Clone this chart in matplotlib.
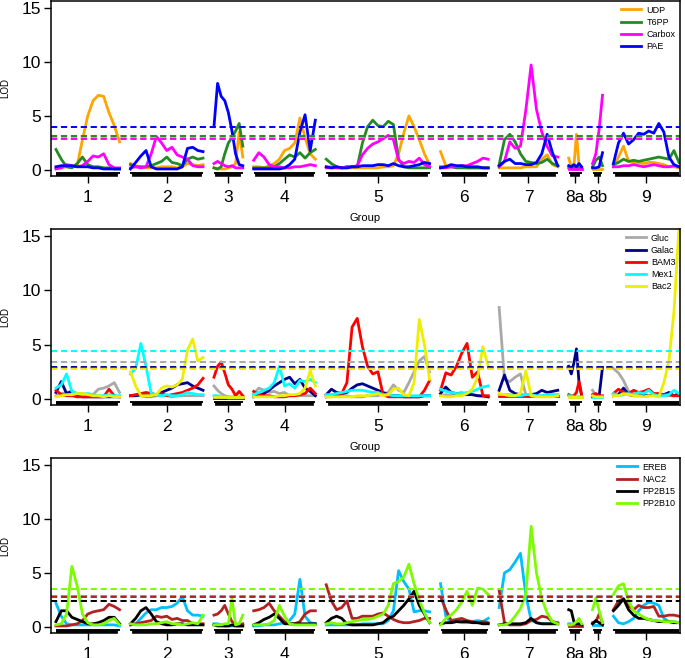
import matplotlib
matplotlib.use('Agg')
import matplotlib.pyplot as plt
import numpy as np

plt.rcParams['font.family'] = ['Liberation Sans', 'DejaVu Sans']

# chromosome layout (cM) and marker counts
chrom_names = ['1', '2', '3', '4', '5', '6', '7', '8a', '8b', '9']
chrom_len = [64, 73, 29, 62, 104, 48, 59, 13, 10, 66]
n_pts = [13, 15, 9, 13, 21, 10, 12, 6, 4, 14]
gap = 11

# ---- panel 1 ----
udp = [
    [0.2, 0.2, 0.3, 0.3, 0.4, 2.8, 5.0, 6.4, 6.9, 6.8, 5.3, 4.1, 2.6],
    [0.6, 0.4, 0.3, 0.2, 0.2, 0.2, 0.3, 0.3, 0.3, 0.2, 0.3, 0.6, 0.5, 0.4, 0.5],
    [0.2, 0.1, 0.1, 0.1, 0.2, 0.3, 0.6, 3.5, 1.2],
    [0.3, 0.3, 0.2, 0.4, 0.6, 1.0, 1.8, 2.0, 2.5, 4.8, 3.0, 1.5, 1.0],
    [0.3, 0.3, 0.2, 0.2, 0.2, 0.2, 0.2, 0.2, 0.2, 0.2, 0.2, 0.3, 0.3, 0.4, 1.5, 3.4, 5.0, 4.0, 2.8, 1.5, 0.5],
    [1.7, 0.4, 0.3, 0.3, 0.3, 0.2, 0.2, 0.2, 0.2, 0.2],
    [0.2, 0.2, 0.2, 0.2, 0.2, 0.3, 0.3, 0.3, 1.0, 1.4, 0.5, 0.3],
    [1.1, 0.3, 0.3, 3.3, 0.4, 0.2],
    [0.1, 0.1, 0.1, 0.1],
    [0.3, 1.2, 2.2, 0.8, 0.7, 0.7, 0.6, 0.7, 0.7, 0.6, 0.5, 0.3, 0.3, 0.2],
]
t6pp = [
    [1.9, 1.0, 0.3, 0.2, 0.6, 1.2, 0.5, 0.3, 0.3, 0.2, 0.2, 0.1, 0.1],
    [0.5, 0.3, 0.3, 0.3, 0.4, 0.6, 0.8, 1.2, 0.7, 0.6, 0.4, 1.0, 1.2, 1.0, 1.1],
    [0.2, 0.1, 0.3, 1.5, 2.5, 3.0, 3.6, 4.3, 2.2],
    [0.2, 0.2, 0.2, 0.2, 0.3, 0.6, 1.0, 1.4, 1.2, 1.6, 1.1, 1.6, 1.9],
    [1.0, 0.6, 0.3, 0.2, 0.3, 0.3, 0.3, 2.5, 4.0, 4.6, 4.1, 4.0, 4.5, 4.2, 1.0, 0.3, 0.2, 0.2, 0.2, 0.2, 0.2],
    [0.3, 0.3, 0.3, 0.2, 0.2, 0.2, 0.2, 0.2, 0.2, 0.2],
    [0.5, 2.8, 3.3, 2.6, 1.5, 0.8, 0.7, 0.6, 0.7, 1.0, 0.6, 0.4],
    [0.2, 0.2, 0.2, 0.3, 0.2, 0.2],
    [0.3, 0.9, 1.2, 0.4],
    [0.5, 0.7, 1.0, 0.8, 0.9, 0.8, 0.9, 1.0, 1.1, 1.2, 1.1, 1.0, 1.8, 0.7],
]
carbox = [
    [0.1, 0.2, 0.5, 0.4, 0.3, 0.4, 0.8, 1.3, 1.2, 1.5, 0.5, 0.2, 0.2],
    [0.2, 0.3, 0.2, 0.3, 1.5, 3.1, 2.5, 1.8, 2.1, 1.4, 1.2, 1.0, 0.4, 0.3, 0.3],
    [0.6, 0.8, 0.6, 0.4, 0.3, 0.4, 0.2, 0.2, 0.2],
    [0.9, 1.6, 1.2, 0.5, 0.3, 0.3, 0.2, 0.2, 0.3, 0.3, 0.4, 0.5, 0.4],
    [0.2, 0.2, 0.2, 0.2, 0.3, 0.3, 0.4, 1.4, 2.0, 2.4, 2.6, 2.9, 3.2, 2.8, 0.9, 0.6, 0.8, 0.7, 1.1, 0.5, 0.3],
    [0.2, 0.2, 0.3, 0.3, 0.4, 0.4, 0.6, 0.8, 1.1, 1.0],
    [0.3, 0.8, 2.6, 2.0, 2.2, 5.5, 9.7, 5.6, 3.5, 2.2, 1.3, 1.2],
    [0.1, 0.1, 0.1, 0.1, 0.1, 0.1],
    [0.6, 1.5, 3.8, 6.9],
    [0.3, 0.3, 0.4, 0.4, 0.5, 0.4, 0.3, 0.4, 0.5, 0.4, 0.3, 0.3, 0.4, 0.3],
]
pae = [
    [0.3, 0.4, 0.4, 0.4, 0.3, 0.3, 0.3, 0.2, 0.2, 0.1, 0.1, 0.1, 0.1],
    [0.1, 0.7, 1.3, 1.8, 0.3, 0.1, 0.1, 0.1, 0.1, 0.1, 0.3, 2.0, 2.1, 1.8, 1.7],
    [4.0, 8.0, 6.8, 6.4, 5.3, 3.6, 1.5, 0.5, 0.4],
    [0.1, 0.1, 0.1, 0.1, 0.1, 0.1, 0.2, 0.5, 1.0, 3.5, 5.1, 1.8, 4.6],
    [0.3, 0.2, 0.3, 0.2, 0.2, 0.3, 0.3, 0.4, 0.4, 0.4, 0.5, 0.5, 0.4, 0.6, 0.4, 0.3, 0.3, 0.4, 0.5, 0.7, 0.6],
    [0.2, 0.3, 0.5, 0.4, 0.4, 0.3, 0.3, 0.3, 0.2, 0.2],
    [0.4, 0.8, 1.0, 0.6, 0.6, 0.5, 0.5, 0.7, 1.5, 3.3, 1.6, 0.4],
    [0.4, 0.3, 0.5, 0.3, 0.6, 0.3],
    [0.2, 0.2, 0.3, 1.6],
    [0.6, 2.5, 3.4, 2.4, 2.8, 3.4, 3.3, 3.6, 3.4, 4.3, 3.5, 1.2, 0.5, 0.3],
]

# ---- panel 2 ----
gluc = [
    [0.3, 0.5, 0.6, 0.7, 0.5, 0.5, 0.4, 0.4, 0.9, 1.0, 1.2, 1.5, 0.6],
    [0.3, 0.3, 0.3, 0.2, 0.2, 0.3, 0.3, 0.3, 0.2, 0.3, 0.3, 0.3, 0.3, 0.3, 0.3],
    [1.2, 0.8, 0.5, 0.3, 0.2, 0.2, 0.2, 0.2, 0.2],
    [0.5, 1.0, 0.8, 0.6, 0.7, 0.5, 0.6, 0.3, 0.3, 0.3, 0.3, 0.3, 0.3],
    [0.2, 0.2, 0.3, 0.3, 0.3, 0.2, 0.2, 0.2, 0.3, 0.3, 0.3, 0.5, 0.6, 1.3, 0.8, 0.6, 1.5, 2.5, 3.5, 3.9, 2.5],
    [0.3, 0.4, 0.3, 0.5, 0.6, 0.4, 0.4, 0.3, 0.2, 0.2],
    [8.4, 1.8, 1.6, 2.0, 2.3, 0.4, 0.3, 0.3, 0.3, 0.3, 0.3, 0.3],
    [0.2, 0.2, 0.2, 0.2, 0.2, 0.2],
    [0.8, 0.3, 0.2, 0.2],
    [2.8, 2.4, 1.7, 0.7, 0.5, 0.4, 0.3, 0.3, 0.3, 0.3, 0.3, 0.3, 0.3, 0.3],
]
galac = [
    [0.6, 1.6, 0.5, 0.7, 0.3, 0.2, 0.2, 0.2, 0.2, 0.2, 0.2, 0.2, 0.2],
    [0.3, 0.3, 0.4, 0.3, 0.3, 0.4, 0.6, 0.8, 1.0, 1.3, 1.4, 1.5, 1.2, 1.0, 0.8],
    [0.1, 0.1, 0.1, 0.1, 0.1, 0.1, 0.1, 0.1, 0.1],
    [0.2, 0.3, 0.5, 0.8, 1.2, 1.5, 1.8, 2.0, 1.4, 1.8, 1.0, 0.7, 0.3],
    [0.4, 0.9, 0.6, 0.5, 0.6, 1.0, 1.3, 1.4, 1.2, 1.0, 0.8, 0.6, 0.4, 0.3, 0.3, 0.2, 0.2, 0.2, 0.2, 0.3, 0.3],
    [0.5, 1.1, 0.6, 0.5, 0.4, 0.4, 0.4, 0.3, 0.3, 0.2],
    [0.8, 2.2, 0.8, 0.5, 0.4, 0.3, 0.4, 0.5, 0.8, 0.6, 0.7, 0.8],
    [3.0, 2.3, 3.3, 4.6, 1.5, 0.3],
    [0.2, 0.3, 0.3, 2.9],
    [0.3, 0.4, 1.0, 0.4, 0.3, 0.3, 0.3, 0.3, 0.4, 0.3, 0.4, 0.6, 0.3, 0.5],
]
bam3 = [
    [0.8, 0.4, 0.3, 0.3, 0.2, 0.2, 0.2, 0.2, 0.2, 0.2, 0.9, 0.3, 0.2],
    [0.3, 0.4, 0.5, 0.6, 0.5, 0.4, 0.5, 0.3, 0.4, 0.5, 0.6, 0.8, 1.0, 1.3, 1.9],
    [2.0, 3.0, 3.4, 2.4, 1.3, 0.9, 0.3, 0.7, 0.3],
    [0.7, 0.4, 0.3, 0.3, 0.2, 0.2, 0.2, 0.3, 0.3, 0.4, 0.5, 1.0, 0.5],
    [0.2, 0.3, 0.3, 0.5, 1.5, 6.6, 7.4, 4.8, 3.0, 2.3, 2.5, 0.4, 0.2, 0.2, 0.2, 0.2, 0.2, 0.2, 0.2, 0.8, 1.7],
    [0.8, 2.4, 2.2, 3.0, 4.2, 5.1, 2.0, 2.5, 0.3, 0.3],
    [0.3, 0.3, 0.3, 0.3, 0.3, 0.3, 0.3, 0.3, 0.3, 0.3, 0.3, 0.3],
    [0.4, 0.3, 0.3, 0.6, 1.6, 0.4],
    [0.4, 0.5, 0.3, 0.3],
    [0.5, 0.9, 0.6, 0.5, 0.8, 0.6, 0.7, 0.9, 0.5, 0.5, 0.4, 0.4, 0.3, 0.3],
]
mex1 = [
    [1.0, 1.3, 2.3, 0.7, 0.5, 0.4, 0.5, 0.4, 0.3, 0.3, 0.4, 0.3, 0.3],
    [2.3, 2.8, 5.1, 3.0, 0.5, 0.4, 0.3, 0.4, 0.3, 0.3, 0.4, 0.6, 0.5, 0.4, 0.4],
    [0.3, 0.3, 0.2, 0.2, 0.1, 0.1, 0.1, 0.1, 0.1],
    [0.4, 0.6, 0.8, 1.0, 1.5, 3.0, 1.2, 1.4, 1.0, 1.7, 1.6, 1.8, 1.5],
    [0.4, 0.4, 0.5, 0.6, 0.7, 0.8, 0.8, 0.8, 0.7, 0.6, 0.6, 0.4, 0.4, 0.3, 0.3, 0.3, 0.3, 0.3, 0.3, 0.3, 0.3],
    [0.9, 0.7, 0.6, 0.5, 0.5, 0.6, 0.7, 0.9, 1.1, 1.2],
    [0.4, 0.4, 0.4, 0.3, 0.3, 0.4, 0.4, 0.3, 0.3, 0.4, 0.4, 0.4],
    [0.3, 0.3, 0.2, 0.2, 0.2, 0.2],
    [0.2, 0.2, 0.2, 0.2],
    [0.5, 0.3, 0.4, 0.5, 0.4, 0.6, 0.5, 0.8, 0.4, 0.3, 0.3, 0.4, 0.8, 0.5],
]
bac2 = [
    [0.2, 0.3, 0.4, 0.4, 0.5, 0.5, 0.4, 0.3, 0.3, 0.2, 0.3, 0.2, 0.2],
    [2.5, 1.2, 0.3, 0.3, 0.3, 0.4, 1.0, 1.2, 1.1, 1.3, 1.8, 4.5, 5.5, 3.5, 3.8],
    [0.2, 0.2, 0.2, 0.2, 0.2, 0.2, 0.2, 0.2, 0.2],
    [0.2, 0.2, 0.2, 0.2, 0.2, 0.3, 0.3, 0.4, 0.4, 0.5, 1.0, 2.6, 1.2],
    [0.2, 0.2, 0.2, 0.2, 0.2, 0.2, 0.3, 0.3, 0.3, 0.4, 0.5, 0.3, 0.4, 0.9, 1.0, 0.4, 0.3, 1.5, 7.3, 5.0, 1.8],
    [0.3, 0.2, 0.2, 0.3, 0.3, 0.5, 0.9, 2.0, 4.8, 3.0],
    [0.5, 0.4, 0.3, 0.3, 0.5, 2.6, 0.3, 0.2, 0.2, 0.2, 0.2, 0.3],
    [0.2, 0.2, 0.2, 0.2, 0.2, 0.2],
    [0.3, 0.2, 0.2, 0.2],
    [0.3, 0.3, 0.5, 0.4, 0.3, 0.3, 0.2, 0.3, 0.3, 0.2, 1.5, 3.5, 8.0, 15.8],
]

# ---- panel 3 ----
ereb = [
    [2.2, 1.0, 0.3, 0.2, 0.2, 0.2, 0.2, 0.2, 0.2, 0.2, 0.2, 0.2, 0.1],
    [0.2, 0.3, 0.8, 1.3, 1.6, 1.6, 1.8, 1.8, 1.9, 2.2, 2.8, 1.5, 1.1, 1.1, 1.0],
    [0.3, 0.3, 0.2, 0.1, 0.1, 0.1, 0.1, 0.1, 0.1],
    [0.1, 0.1, 0.2, 0.2, 0.2, 0.3, 0.4, 0.6, 1.2, 4.4, 1.0, 0.4, 0.3],
    [0.2, 0.2, 0.2, 0.2, 0.2, 0.2, 0.2, 0.3, 0.3, 0.3, 0.3, 0.3, 0.6, 1.5, 5.2, 4.2, 3.5, 1.4, 1.5, 1.5, 1.4],
    [4.0, 1.0, 0.4, 0.5, 0.4, 0.4, 0.5, 0.6, 0.5, 0.8],
    [1.8, 5.0, 5.3, 6.0, 6.8, 3.0, 0.6, 0.4, 0.3, 0.3, 0.3, 0.3],
    [0.3, 0.3, 0.2, 0.2, 0.2, 0.2],
    [0.2, 0.2, 0.2, 0.2],
    [1.0, 0.4, 0.3, 0.5, 0.8, 1.5, 2.0, 2.3, 2.2, 2.0, 0.8, 0.5, 0.5, 0.4],
]
nac2 = [
    [0.1, 0.1, 0.1, 0.2, 0.3, 0.6, 1.2, 1.4, 1.5, 1.6, 2.1, 1.9, 1.6],
    [0.2, 0.3, 0.4, 0.5, 0.6, 1.0, 0.9, 1.0, 0.7, 0.8, 0.6, 0.6, 0.3, 0.3, 0.3],
    [1.1, 1.2, 1.5, 2.0, 1.2, 0.5, 0.3, 0.2, 0.3],
    [1.5, 1.6, 1.8, 2.2, 1.5, 1.0, 0.5, 0.3, 0.3, 0.5, 1.2, 1.5, 1.5],
    [3.9, 2.4, 1.6, 1.8, 2.4, 0.8, 0.8, 1.0, 1.0, 1.0, 1.2, 1.3, 1.0, 0.7, 0.5, 0.4, 0.4, 0.5, 0.6, 0.8, 0.8],
    [2.8, 1.6, 0.6, 0.7, 0.8, 0.6, 0.5, 0.4, 0.5, 0.4],
    [3.4, 0.4, 0.2, 0.2, 0.2, 0.3, 0.6, 0.7, 1.0, 0.9, 0.5, 0.4],
    [0.1, 0.1, 0.1, 0.1, 0.1, 0.1],
    [0.4, 0.5, 1.2, 0.4],
    [1.6, 2.4, 2.6, 2.0, 1.6, 2.0, 1.8, 1.8, 1.9, 1.0, 1.0, 1.1, 1.1, 1.0],
]
pp2b15 = [
    [0.5, 1.5, 1.5, 0.9, 0.7, 0.5, 0.3, 0.3, 0.4, 0.6, 0.9, 0.9, 0.3],
    [0.3, 0.8, 1.5, 1.8, 1.2, 0.5, 0.3, 0.2, 0.2, 0.3, 0.3, 0.2, 0.2, 0.2, 0.2],
    [0.2, 0.1, 0.1, 0.1, 0.1, 0.2, 0.1, 0.1, 0.1],
    [0.2, 0.4, 0.7, 0.9, 1.2, 0.8, 0.3, 0.3, 0.3, 0.3, 0.3, 0.3, 0.3],
    [0.4, 0.8, 1.0, 0.8, 0.3, 0.2, 0.2, 0.2, 0.2, 0.2, 0.3, 0.4, 0.8, 1.0, 1.5, 2.0, 2.6, 3.3, 2.0, 1.2, 0.4],
    [0.3, 0.4, 0.4, 0.5, 0.5, 0.5, 0.4, 0.4, 0.3, 0.3],
    [0.2, 0.3, 0.3, 0.3, 0.3, 0.4, 0.8, 0.4, 0.3, 0.3, 0.3, 0.3],
    [1.6, 1.5, 0.5, 0.3, 0.3, 0.2],
    [0.3, 0.6, 0.4, 0.2],
    [1.5, 2.0, 2.6, 1.6, 1.1, 0.8, 0.8, 0.7, 0.6, 0.5, 0.5, 0.5, 0.4, 0.4],
]
pp2b10 = [
    [0.2, 0.3, 1.2, 5.6, 3.8, 1.2, 0.4, 0.2, 0.2, 0.3, 0.6, 0.8, 0.2],
    [0.3, 0.2, 0.2, 0.2, 0.3, 0.3, 0.4, 0.5, 0.3, 0.3, 0.2, 0.3, 0.4, 0.3, 1.1],
    [0.2, 0.2, 0.2, 0.3, 0.3, 2.6, 0.2, 0.3, 1.1],
    [0.2, 0.2, 0.2, 0.3, 0.6, 2.0, 1.0, 0.3, 0.2, 0.2, 0.2, 0.2, 0.2],
    [0.3, 0.4, 0.3, 0.3, 0.4, 0.5, 0.6, 0.7, 0.7, 0.8, 1.0, 1.2, 2.0, 4.0, 4.2, 4.6, 5.8, 4.0, 2.5, 1.3, 0.4],
    [0.2, 0.8, 1.1, 1.6, 2.3, 3.3, 2.0, 3.6, 3.5, 3.0],
    [0.2, 0.2, 0.4, 1.0, 1.7, 3.0, 9.3, 5.0, 2.6, 1.3, 0.5, 0.3],
    [0.2, 0.2, 0.3, 0.5, 0.8, 0.3],
    [1.6, 2.7, 1.5, 0.4],
    [3.0, 3.8, 4.0, 2.4, 1.5, 1.2, 0.9, 0.7, 0.6, 0.6, 0.5, 0.5, 0.5, 0.4],
]

names1 = ['UDP', 'T6PP', 'Carbox', 'PAE']
colors1 = ['#FFA500', '#228B22', '#FF00FF', '#0000FF']
thresh1 = [3.0, 3.1, 2.85, 3.94]

names2 = ['Gluc', 'Galac', 'BAM3', 'Mex1', 'Bac2']
colors2 = ['#A9A9A9', '#00008B', '#FF0000', '#00FFFF', '#EEEE00']
thresh2 = [3.35, 2.95, 2.85, 4.4, 2.75]

names3 = ['EREB', 'NAC2', 'PP2B15', 'PP2B10']
colors3 = ['#00BFFF', '#B22222', '#000000', '#7CFC00']
thresh3 = [2.87, 2.75, 2.42, 3.5]

starts = np.concatenate([[0], np.cumsum(np.array(chrom_len) + gap)[:-1]])
ends = starts + np.array(chrom_len)
mids = (starts + ends) / 2


def draw_panel(ax, series, names, colors, thresh, group_label=True):
    for vals, name, col in zip(series, names, colors):
        for c in range(len(chrom_len)):
            x = np.linspace(starts[c], ends[c], n_pts[c])
            ax.plot(x, vals[c], color=col, lw=2.0,
                    label=name if c == 0 else None)
    for t, col in zip(thresh, colors):
        ax.axhline(t, color=col, lw=1.4, ls=(0, (3.2, 1.9)))
    ybar = -0.38
    for c in range(len(chrom_len)):
        ax.plot([starts[c], ends[c]], [ybar, ybar], color='black', lw=2.8,
                solid_capstyle='butt')
    for c in range(len(chrom_len) - 1):
        ax.plot([ends[c] + 0.6, starts[c + 1] - 0.6], [-0.55, -0.55],
                color='white', lw=3, clip_on=False, zorder=5)
    ax.set_xlim(-5, 628)
    ax.set_ylim(-0.55, 15.6)
    ax.set_yticks([0, 5, 10, 15])
    ax.set_xticks(mids)
    ax.set_xticklabels(chrom_names)
    ax.tick_params(axis='both', direction='out', length=5, width=1,
                   labelsize=12.5, pad=2)
    ax.tick_params(axis='x', pad=5)
    for s in ax.spines.values():
        s.set_linewidth(1.1)
    ax.text(-0.073, 0.5, 'LOD', rotation=90, transform=ax.transAxes,
            ha='center', va='center', fontsize=7)
    if group_label:
        ax.text(0.5, -0.239, 'Group', transform=ax.transAxes,
                ha='center', va='center', fontsize=8)
    leg = ax.legend(loc='upper right', frameon=False, fontsize=6.5,
                    handlelength=2.2, handletextpad=0.6, labelspacing=0.35,
                    borderaxespad=0.1, borderpad=0.4)
    for ln in leg.get_lines():
        ln.set_linewidth(2)


fig = plt.figure(figsize=(6.85, 6.58), dpi=100)
W, H = 685.0, 658.0
ax1 = fig.add_axes([51 / W, 1 - 176 / H, 629 / W, 175 / H])
ax2 = fig.add_axes([51 / W, 1 - 405 / H, 629 / W, 176 / H])
ax3 = fig.add_axes([51 / W, 1 - 633 / H, 629 / W, 175 / H])

draw_panel(ax1, [udp, t6pp, carbox, pae], names1, colors1, thresh1)
draw_panel(ax2, [gluc, galac, bam3, mex1, bac2], names2, colors2, thresh2)
draw_panel(ax3, [ereb, nac2, pp2b15, pp2b10], names3, colors3, thresh3,
           group_label=False)

fig.savefig('out.png', dpi=100)
